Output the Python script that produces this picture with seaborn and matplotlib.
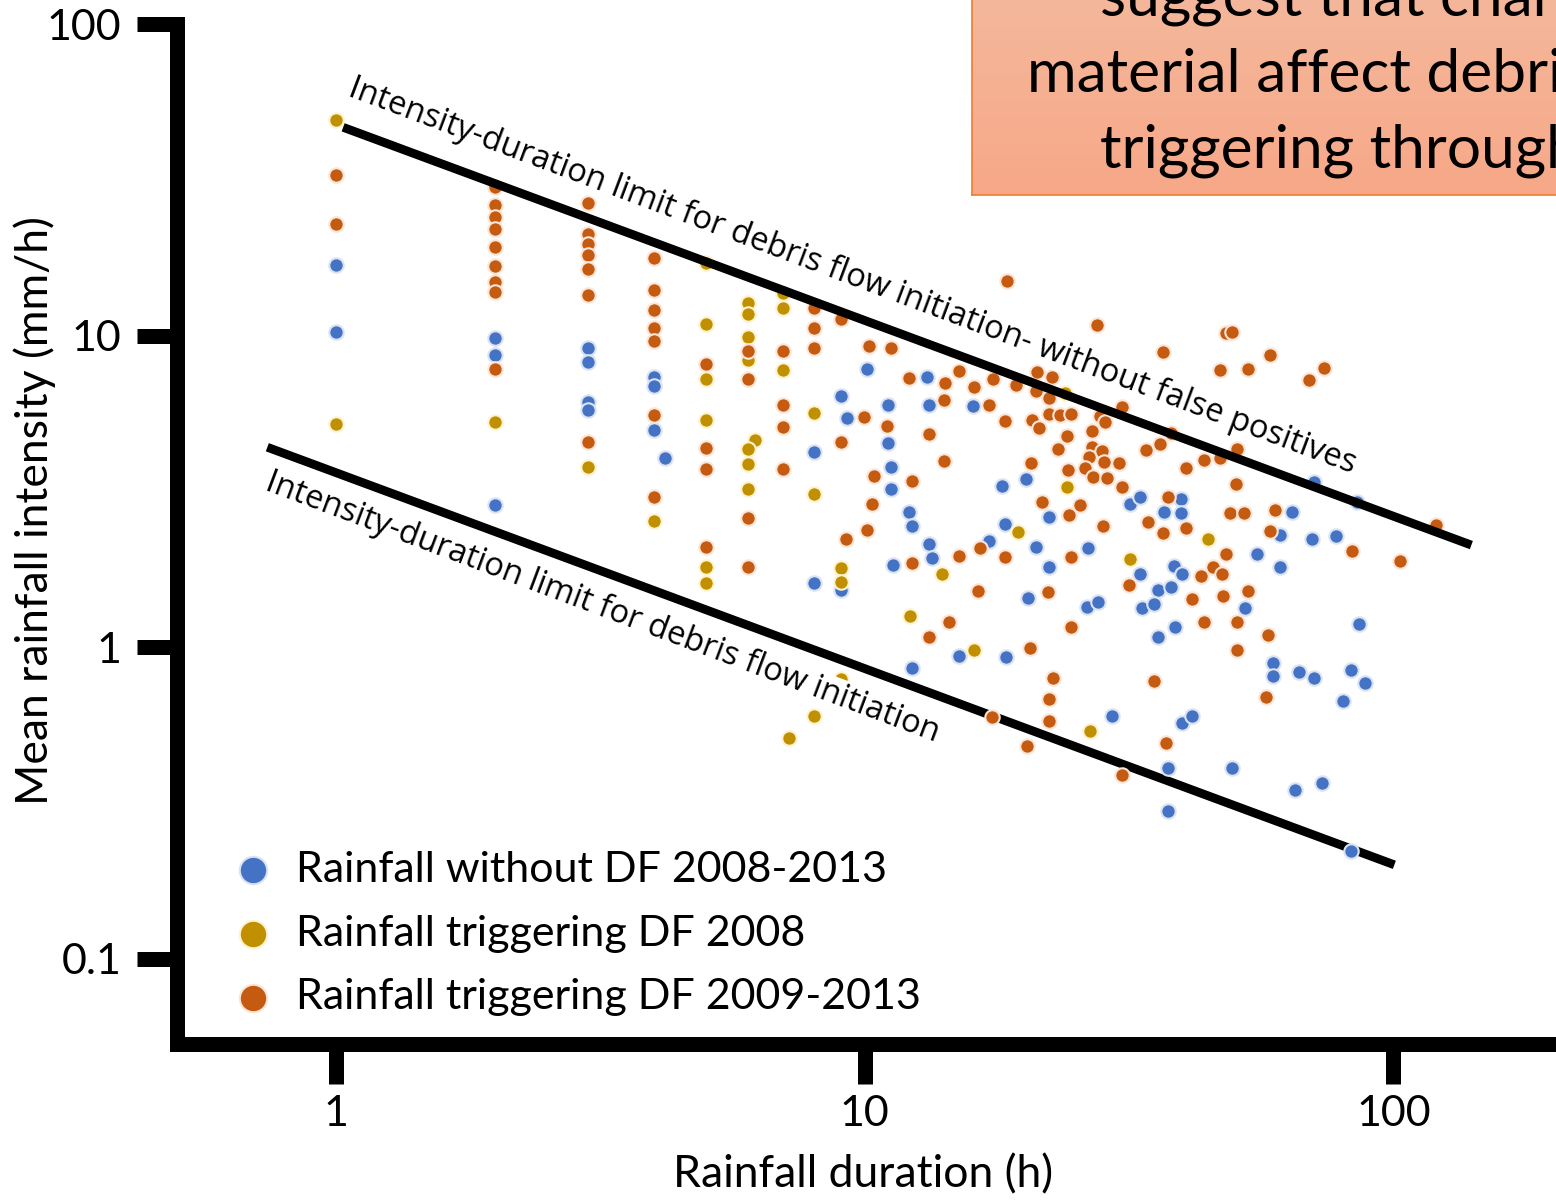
import numpy as np
import pandas as pd
import matplotlib
matplotlib.use("Agg")
import matplotlib.pyplot as plt
import seaborn as sns

# ── data ──────────────────────────────────────────────────────────────────
no_df_dur = [1, 1, 2, 2, 2, 3, 3, 3, 3, 4, 4, 4, 4.19, 8, 8, 9, 9.25, 9,
             10.1, 11.05, 11.05, 11.2, 11.2, 12.1, 12.3, 13.2, 13.1, 13.2, 16.0,
             13.4, 11.3, 17.2, 15.1, 12.3, 18.2, 20.2, 31.8, 33.2, 39.6, 36.8, 39.7,
             22.3, 18.4, 21.1, 26.4, 22.3, 33.2, 38.5, 39.9, 35.8, 38.0, 33.5, 35.2,
             52.3, 20.4, 26.3, 27.6, 38.7, 35.8, 18.5, 29.3, 39.9, 41.5, 37.4, 49.6,
             37.4, 70.9, 85.5, 64.2, 60.9, 70.0, 78.0, 55.3, 60.9, 59.1, 59.1, 66.4,
             70.9, 83.3, 88.5, 80.4, 85.9, 65.0, 73.1, 83.3]
no_df_int = [16.8, 10.3, 9.8, 8.65, 2.85, 9.1, 8.2, 6.1, 5.75, 7.35, 6.87, 4.97, 4.04,
             4.22, 1.60, 6.38, 5.43, 1.52, 7.8, 5.98, 4.51, 3.78, 3.21, 2.71, 2.44,
             2.14, 7.35, 5.98, 5.93, 1.93, 1.83, 2.19, 0.936, 0.856, 3.29, 3.46, 2.88,
             3.03, 2.98, 2.71, 2.69, 2.61, 2.48, 2.09, 2.08, 1.81, 1.71, 1.82, 1.71,
             1.52, 1.56, 1.33, 1.37, 1.33, 1.44, 1.34, 1.40, 1.16, 1.08, 0.929, 0.60,
             0.57, 0.60, 0.409, 0.409, 0.298, 3.38, 2.92, 2.71, 2.29, 2.22, 2.27, 1.99,
             1.81, 0.889, 0.807, 0.831, 0.795, 0.844, 0.766, 0.671, 1.19, 0.348, 0.366,
             0.2216]

df08_dur = [1, 1, 2, 3, 4, 5, 5, 5, 5, 5, 5, 6, 6, 6, 6, 6.2, 6, 6, 6, 7, 7, 7,
            7.2, 8, 8, 8, 9, 9, 9, 14.0, 12.2, 16.1, 23.9, 24.1, 44.5, 19.5, 31.7, 26.7]
df08_int = [49.1, 5.2, 5.27, 3.78, 2.54, 17.1, 10.9, 7.24, 5.35, 1.81, 1.60, 12.7,
            11.7, 9.88, 8.33, 4.61, 4.32, 3.87, 3.21, 13.7, 12.3, 7.74, 0.51, 5.63,
            3.10, 0.60, 1.79, 1.62, 0.79, 1.71, 1.26, 0.978, 6.53, 3.26, 2.22, 2.34,
            1.92, 0.538]

df0913_dur = [1, 1, 2, 2, 2, 2, 2, 2, 2, 2, 2, 3, 3, 3, 3, 3, 3, 3, 4, 4, 4, 4, 4,
              4, 4, 5, 5, 5, 5, 6, 6, 6, 6, 7, 7, 7, 7, 8, 8, 8, 9, 9, 9.2,
              9.95, 10.2, 11.2, 11.0, 10.4, 10.3, 10.1, 12.3, 12.1, 14.2, 14.1, 13.25,
              14.1, 15.1, 16.1, 17.2, 17.5, 12.3, 15.1, 16.5, 16.4, 14.4, 13.2, 17.4,
              27.5, 48.3, 49.6, 36.6, 46.9, 53.0, 19.3, 21.05, 22.3, 21.2, 22.6,
              18.4, 20.7, 21.4, 22.3, 23.4, 24.6, 27.8, 28.5, 30.6,
              24.1, 26.9, 23.2, 26.9, 28.05, 26.6, 28.4, 30.2, 26.1, 24.2, 27.0, 28.7,
              30.6, 20.6, 34.0, 36.1, 38.0, 40.6, 43.9, 46.9, 50.3, 50.5,
              37.4, 21.6, 25.5, 24.3, 28.2, 34.4, 36.6, 40.6, 49.0, 52.1,
              18.4, 24.6, 31.6, 43.2, 45.5, 47.3, 48.3, 41.5, 47.7, 53.0, 22.2,
              24.5, 43.9, 50.5, 50.7, 20.5, 22.7, 22.3, 22.3, 20.3, 35.3, 37.2, 30.7,
              58.3, 69.1, 73.8, 120.6, 59.6, 58.3, 83.6, 103.1, 58.0, 57.5, 18.6]
df0913_int = [32.7, 22.8, 29.9, 26.2, 24.1, 21.9, 19.2, 16.7, 14.8, 13.8, 7.8, 26.6,
              21.2, 19.6, 18.2, 16.4, 13.5, 4.55, 17.7, 14.0, 12.05, 10.55, 9.6, 5.55,
              3.03, 8.09, 4.35, 3.72, 2.09, 8.9, 7.24, 2.59, 1.81, 8.9, 5.98, 5.08,
              3.72, 12.3, 10.6, 9.1, 11.3, 4.55, 2.22,
              5.47, 9.24, 9.1, 5.12, 3.54, 2.88, 2.37, 3.41, 7.3, 7.03, 6.2, 4.82,
              3.95, 7.68, 6.83, 5.98, 7.24, 1.86, 1.96, 2.08, 1.51, 1.20, 1.08, 0.596,
              10.8, 10.2, 10.3, 8.84, 7.74, 7.8, 6.93, 6.63, 6.29, 7.62, 7.35,
              5.31, 5.35, 5.04, 5.59, 5.55, 5.59, 5.51, 5.27, 5.89,
              4.75, 4.93, 4.32, 4.38, 4.25, 4.07, 3.92, 3.89, 3.75, 3.70, 3.51, 3.48,
              3.26, 3.89, 4.29, 4.48, 4.86, 3.75, 3.98, 4.04, 3.33, 4.32,
              3.03, 2.92, 2.85, 2.65, 2.44, 2.52, 2.32, 2.41, 2.69, 2.69,
              1.94, 1.94, 1.58, 1.69, 1.81, 1.71, 1.99, 1.43, 1.46, 1.51, 1.50,
              1.16, 1.20, 1.20, 0.978, 0.993, 0.795, 0.681, 0.579, 0.481, 0.778, 0.492,
              0.388, 8.65, 7.19, 7.85, 2.46, 2.75, 2.36, 2.03, 1.89, 1.09, 0.691, 15.0]

series = ["Rainfall without DF 2008-2013", "Rainfall triggering DF 2008",
          "Rainfall triggering DF 2009-2013"]
fills = ["#4472C4", "#C09000", "#C55A11"]
rings = ["#DAE3F3", "#FFF2CC", "#FBE5D6"]

# intensity-duration thresholds (end points)
lim_fp_dur, lim_fp_int = [1.031, 140.4], [46.6, 2.125]
lim_dur, lim_int = [0.741, 100.4], [4.38, 0.20]

box_lines = ["suggest that changes", "material affect debris", "triggering through"]

df = pd.concat([
    pd.DataFrame({"duration": no_df_dur, "intensity": no_df_int, "group": series[0]}),
    pd.DataFrame({"duration": df08_dur, "intensity": df08_int, "group": series[1]}),
    pd.DataFrame({"duration": df0913_dur, "intensity": df0913_int, "group": series[2]}),
])

# ── plot ──────────────────────────────────────────────────────────────────
sns.set_style("white")
plt.rcParams["font.family"] = ["Lato", "DejaVu Sans"]
for key in ["text.color", "axes.labelcolor", "xtick.color", "ytick.color"]:
    plt.rcParams[key] = "black"

W, H = 1556, 1201
fig = plt.figure(figsize=(W / 100, H / 100), dpi=100)
ax = fig.add_axes([177 / W, 1 - 1044 / H, 1 - 177 / W, (1044 - 24) / H])

ax.plot(lim_dur, lim_int, color="black", lw=6.3, solid_capstyle="butt", zorder=1)
for name, fc, ec in zip(series, fills, rings):
    sub = df[df["group"] == name]
    sns.scatterplot(data=sub, x="duration", y="intensity", ax=ax, color=fc,
                    edgecolor=ec, linewidth=1.5, s=108, label=name, zorder=2)
ax.plot(lim_fp_dur, lim_fp_int, color="black", lw=6.3, solid_capstyle="butt", zorder=3)

lab_kw = dict(family=["Open Sans", "DejaVu Sans"], fontsize=23.5, rotation=-20.6,
              rotation_mode="anchor", ha="left", va="baseline", zorder=4,
              color="black", bbox=dict(facecolor="white", edgecolor="none", pad=0.5))
ax.text(1.049, 59.0, "Intensity-duration limit for debris flow initiation- without false positives",
        **lab_kw)
ax.text(0.731, 3.21, "Intensity-duration limit for debris flow initiation", **lab_kw)

ax.set_xscale("log")
ax.set_yscale("log")
ax.set_xlim(0.5, 203)
ax.set_ylim(0.0532, 100)
ax.set_xticks([1, 10, 100], ["1", "10", "100"])
ax.set_yticks([0.1, 1, 10, 100], ["0.1", "1", "10", "100"])
ax.minorticks_off()
ax.tick_params(axis="both", which="major", length=29, width=10.8, color="black",
               labelsize=31, labelcolor="black", direction="out", bottom=True, left=True)
ax.tick_params(axis="y", pad=11)
ax.tick_params(axis="x", pad=8)
for side in ["left", "bottom"]:
    ax.spines[side].set_linewidth(10.8)
    ax.spines[side].set_color("black")
    ax.spines[side].set_capstyle("projecting")
for side in ["top", "right"]:
    ax.spines[side].set_visible(False)

ax.set_xlabel("Rainfall duration (h)", fontsize=32, color="black")
ax.set_ylabel("Mean rainfall intensity (mm/h)", fontsize=32, color="black")
ax.xaxis.set_label_coords(0.4975, -0.108)
ax.yaxis.set_label_coords(-0.088, 0.5225)

ax.legend(loc="lower left", bbox_to_anchor=((238 - 177) / 1379, 0.027),
          frameon=False, fontsize=31, markerscale=1.9, handlelength=0.7,
          handletextpad=0.65, labelspacing=0.6, borderpad=0, borderaxespad=0)

# ── orange call-out box, cut by the slide edge ───────────────────────────
box = fig.add_axes([972 / W, 1 - 195 / H, (W - 972) / W + 0.01, 195 / H + 0.01])
grad = np.linspace(0, 1, 64).reshape(-1, 1)
top, bot = np.array([244, 184, 156]) / 255, np.array([247, 168, 136]) / 255
img = top + (bot - top) * grad[:, :, None]
box.imshow(img, aspect="auto", extent=[0, 1, 0, 1])
box.set_xticks([])
box.set_yticks([])
for sp in box.spines.values():
    sp.set_color("#ED7D31")
    sp.set_linewidth(1.2)

for txt, x0, base in zip(box_lines, [1100, 1027, 1100], [15, 92, 167]):
    fig.text(x0 / W, 1 - base / H, txt, fontsize=43.5, va="baseline", ha="left",
             color="black")

fig.savefig("out.png", dpi=100)
plt.close(fig)
